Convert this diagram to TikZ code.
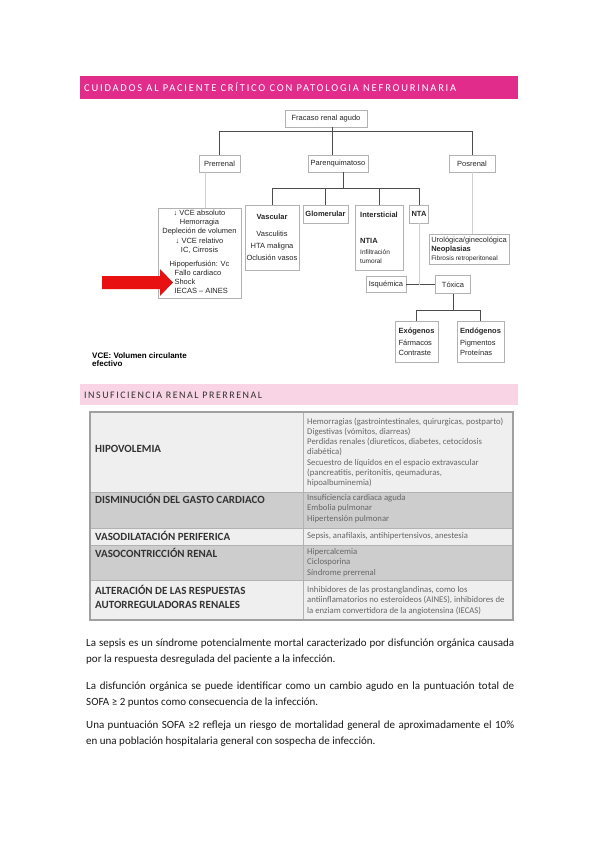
\documentclass[tikz,border=0pt]{standalone}
\usepackage{fontspec}
\usepackage{xcolor}
\setmainfont{Carlito}
\newfontfamily\arialfont{Liberation Sans}
\newfontfamily\espaciada[LetterSpace=17]{Carlito}
\newfontfamily\espaciadab[LetterSpace=15]{Carlito}

\definecolor{rosa}{RGB}{226,44,140}
\definecolor{rosaclaro}{RGB}{249,212,228}
\definecolor{filaclara}{RGB}{239,239,239}
\definecolor{filaoscura}{RGB}{205,205,205}
\definecolor{bordetabla}{RGB}{160,160,160}
\definecolor{rojo}{RGB}{232,16,16}

\newcommand{\diag}{\arialfont\fontsize{7.5}{9}\selectfont}
\newcommand{\menor}{\fontsize{6.5}{7.5}\selectfont}
\newcommand{\textopar}{\fontsize{11}{16}\selectfont\hyphenpenalty=10000\relax}

\begin{document}
\begin{tikzpicture}[x=1pt, y=-1pt,
  caja/.style={draw=gray!60, line width=0.8pt, fill=white, inner sep=1.5pt, font=\diag, text=black!85, align=center},
  rama/.style={black!70, line width=0.9pt},
  tenue/.style={gray!35, line width=0.6pt},
  celda/.style={font=\fontsize{11}{14}\selectfont\bfseries, text=black!80, inner sep=0pt, anchor=base west, align=left},
  detalle/.style={font=\fontsize{8.7}{10.3}\selectfont, text=black!60, inner sep=0pt, anchor=base west, align=left},
  parrafo/.style={font=\textopar, text=black!90, text width=428pt, align=justify, inner sep=0pt, anchor=base west}]

\useasboundingbox (0,0) rectangle (599,848);
\fill[white] (0,0) rectangle (599,848);

% cabecera
\fill[rosa] (80,76) rectangle (518,99);
\node[anchor=base west, inner sep=0pt, text=white, font=\espaciada\fontsize{10.5}{12}\selectfont] (titulo) at (84,91.5) {CUIDADOS AL PACIENTE CRÍTICO CON PATOLOGIA NEFROURINARIA};

% esquema
\node[caja, minimum width=82pt, minimum height=17pt] (fracaso) at (326,118.5) {Fracaso renal agudo};
\node[caja, minimum width=41pt, minimum height=17pt] (prerrenal) at (219.5,163.5) {Prerrenal};
\node[caja, minimum width=60pt, minimum height=17pt] (parenq) at (338,163.5) {Parenquimatoso};
\node[caja, minimum width=46pt, minimum height=17pt] (posrenal) at (472,163.5) {Posrenal};
\coordinate (j1) at (332,131);
\coordinate (j2) at (343,188);
\path[draw] [rama] (fracaso.south -| j1) -- (parenq.north -| j1);
\path[draw] [rama] (j1) -| (prerrenal.north);
\path[draw] [rama] (j1) -| (posrenal.north);

\node[caja, minimum width=83pt, minimum height=90pt] (prelista) at (199.5,253) {↓ VCE absoluto\\ Hemorragia\\ Depleción de volumen\\[1.5pt] ↓ VCE relativo\\ IC, Cirrosis\\[5pt] \begin{tabular}{@{}l@{}}Hipoperfusión: Vc\\ \hspace{5pt}Fallo cardiaco\\ \hspace{5pt}Shock\\ \hspace{5pt}IECAS – AINES\end{tabular}};
\path[draw] [tenue] ([xshift=-14pt]prerrenal.south) -- ([xshift=-14pt]prerrenal.south |- prelista.north);

\node[caja, minimum width=52pt, minimum height=65pt] (vascular) at (272,237.5) {\textbf{Vascular}\\[8pt] Vasculitis\\[3pt] HTA maligna\\[3pt] Oclusión vasos};
\node[caja, minimum width=45pt, minimum height=18pt, font=\diag\bfseries] (glomerular) at (325.5,214) {Glomerular};
\node[caja, minimum width=48pt, minimum height=65pt, align=left] (intersticial) at (379,237.5) {\textbf{Intersticial}\\[17pt] \textbf{NTIA}\\[2pt] {\menor Infiltración}\\ {\menor tumoral}};
\node[caja, minimum width=19pt, minimum height=18pt, font=\diag\bfseries] (nta) at (419,214) {NTA};
\path[draw] [rama] (parenq.south -| j2) -- (j2);
\path[draw] [rama] (j2) -| (vascular.north);
\path[draw] [rama] (j2) -| (glomerular.north);
\path[draw] [rama] (j2) -| (intersticial.north);
\path[draw] [rama] (j2) -| (nta.north);

\node[caja, minimum width=80pt, minimum height=30pt, align=left] (urologica) at (469,249) {Urológica/ginecológica\\ \textbf{Neoplasias}\\ {\menor Fibrosis retroperitoneal}};
\path[draw] [tenue] (posrenal.south) -- (posrenal.south |- urologica.north);

\node[caja, minimum width=40pt, minimum height=16pt] (isquemica) at (386,284.5) {Isquémica};
\node[caja, minimum width=35pt, minimum height=18pt] (toxica) at (453,284.5) {Tóxica};
\path[draw] [rama] (isquemica.east) -- (toxica.west);
\path[draw] [tenue] (nta.south) -- (nta.south |- isquemica.east);

\node[caja, minimum width=43pt, minimum height=41pt, align=left] (exogenos) at (416.5,341.5) {\textbf{Exógenos}\\[3pt] Fármacos\\[1pt] Contraste};
\node[caja, minimum width=47pt, minimum height=41pt, align=left] (endogenos) at (480.5,341.5) {\textbf{Endógenos}\\[3pt] Pigmentos\\[1pt] Proteínas};
\coordinate (j3) at (453,310);
\path[draw] [rama] (toxica.south) -- (j3);
\path[draw] [rama] (j3) -| (exogenos.north);
\path[draw] [rama] (j3) -| (endogenos.north);

% flecha roja
\fill[rojo] (102,276) -- (160,276) -- (160,269) -- (173,282.5) -- (160,296) -- (160,289) -- (102,289) -- cycle;

\begin{scope}
\clip (80,340) rectangle (518,368.5);
\node[anchor=base west, inner sep=0pt, font=\arialfont\fontsize{8}{8.5}\selectfont\bfseries, align=left] (vce) at (92,366.5) {VCE: Volumen circulante\\ efectivo};
\end{scope}

% segunda cabecera
\fill[rosaclaro] (80,384) rectangle (518,405);
\node[anchor=base west, inner sep=0pt, text=black!80, font=\espaciadab\fontsize{10}{12}\selectfont] (subtitulo) at (84,398.5) {INSUFICIENCIA RENAL PRERRENAL};

% tabla
\fill[filaclara] (90,412) rectangle (513,492);
\fill[filaoscura] (90,492) rectangle (513,528);
\fill[filaclara] (90,528) rectangle (513,545);
\fill[filaoscura] (90,545) rectangle (513,580);
\fill[filaclara] (90,580) rectangle (513,620);
\draw[gray!60, line width=0.6pt] (90,492) -- (513,492) (90,528) -- (513,528) (90,545) -- (513,545) (90,580) -- (513,580) (303,412) -- (303,620);
\draw[bordetabla, line width=2pt] (90,412) rectangle (513,620);

\node[celda] (hipovolemia) at (95,452) {HIPOVOLEMIA};
\node[celda] (gasto) at (95,503) {DISMINUCIÓN DEL GASTO CARDIACO};
\node[celda] (vasodil) at (95,540.5) {VASODILATACIÓN PERIFERICA};
\node[celda] (vasocon) at (95,557) {VASOCONTRICCIÓN RENAL};
\node[celda] (alteracion) at (95,608) {ALTERACIÓN DE LAS RESPUESTAS\\ AUTORREGULADORAS RENALES};

\node[detalle] (causas1) at (307,485.8) {Hemorragias (gastrointestinales, quirurgicas, postparto)\\ Digestivas (vómitos, diarreas)\\ Perdidas renales (diureticos, diabetes, cetocidosis\\ diabética)\\ Secuestro de líquidos en el espacio extravascular\\ (pancreatitis, peritonitis, qeumaduras,\\ hipoalbuminemia)};
\node[detalle] (causas2) at (307,521.1) {Insuficiencia cardiaca aguda\\ Embolia pulmonar\\ Hipertensión pulmonar};
\node[detalle] (causas3) at (307,538.5) {Sepsis, anafilaxis, antihipertensivos, anestesia};
\node[detalle] (causas4) at (307,575.1) {Hipercalcemia\\ Ciclosporina\\ Síndrome prerrenal};
\node[detalle] (causas5) at (307,613.1) {Inhibidores de las prostanglandinas, como los\\ antiinflamatorios no esteroideos (AINES), inhibidores de\\ la enziam convertidora de la angiotensina (IECAS)};

% texto
\node[parrafo] (sepsis) at (86,646) {La sepsis es un síndrome potencialmente mortal caracterizado por disfunción orgánica causada\linebreak por la respuesta desregulada del paciente a la infección.};
\node[parrafo] (disfuncion) at (86,689) {La disfunción orgánica se puede identificar como un cambio agudo en la puntuación total de\linebreak SOFA ≥ 2 puntos como consecuencia de la infección.};
\node[parrafo] (sofa) at (86,728) {Una puntuación SOFA ≥2 refleja un riesgo de mortalidad general de aproximadamente el 10\%\linebreak en una población hospitalaria general con sospecha de infección.};

\end{tikzpicture}
\end{document}
